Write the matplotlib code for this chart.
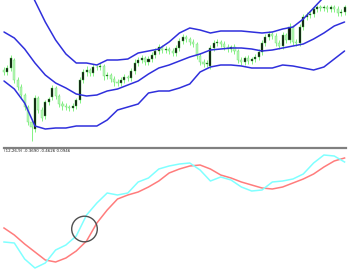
import matplotlib
matplotlib.use("Agg")
import matplotlib.pyplot as plt
from matplotlib.lines import Line2D
import numpy as np

# ---- candle data (price units) ----
opens = [80, 78, 82, 90, 70, 63, 55, 43, 28, 21, 52, 40, 34, 48, 53, 62, 54, 46, 44, 43,
         42, 44, 50, 70, 78, 80, 77, 83, 83, 84, 74, 75, 71, 68, 67, 70, 73, 72, 79, 87,
         90, 92, 88, 91, 95, 99, 103, 100, 101, 99, 97, 102, 109, 113, 111, 108, 106, 94, 88, 86,
         84, 102, 107, 108, 106, 103, 101, 103, 99, 90, 88, 92, 89, 91, 93, 98, 107, 113, 116, 114,
         107, 104, 115, 110, 123, 108, 107, 123, 133, 135, 136, 141, 143, 142, 143, 141, 143, 141, 137, 138]
closes = [78, 82, 92, 70, 63, 55, 43, 28, 23, 52, 40, 32, 48, 51, 62, 54, 46, 44, 43, 42,
          44, 50, 70, 78, 80, 77, 83, 83, 84, 74, 75, 71, 68, 67, 70, 73, 72, 79, 87, 90,
          92, 88, 91, 95, 99, 103, 100, 101, 99, 97, 102, 109, 113, 111, 108, 106, 94, 88, 86, 87,
          102, 107, 108, 106, 103, 101, 103, 99, 90, 88, 92, 89, 91, 93, 98, 107, 113, 116, 114, 107,
          104, 115, 110, 123, 108, 107, 123, 133, 135, 136, 141, 143, 142, 143, 141, 143, 141, 137, 138, 143]
highs = [83, 85, 95, 92, 73, 66, 57, 45, 31, 55, 54, 43, 50, 53, 65, 64, 56, 49, 47, 45,
         47, 52, 73, 81, 84, 82, 86, 85, 87, 86, 78, 77, 74, 71, 73, 76, 75, 82, 91, 93,
         95, 94, 94, 98, 102, 106, 105, 104, 103, 102, 105, 112, 116, 115, 113, 111, 108, 97, 91, 90,
         105, 110, 111, 110, 109, 106, 105, 106, 101, 93, 94, 95, 93, 96, 101, 110, 116, 119, 118, 117,
         110, 118, 117, 127, 125, 111, 126, 136, 138, 139, 144, 145, 145, 145, 145, 145, 145, 144, 141, 145]
lows = [75, 75, 79, 67, 60, 52, 40, 25, 9, 18, 37, 29, 31, 45, 50, 51, 43, 40, 40, 39,
        39, 41, 47, 67, 74, 74, 74, 80, 80, 70, 71, 68, 64, 64, 64, 67, 69, 69, 76, 84,
        87, 85, 85, 88, 92, 96, 97, 97, 96, 94, 94, 99, 106, 108, 105, 103, 91, 85, 83, 83,
        81, 99, 104, 103, 100, 98, 98, 96, 87, 85, 85, 86, 86, 88, 90, 95, 104, 110, 111, 104,
        101, 101, 107, 107, 105, 104, 104, 120, 130, 132, 133, 138, 139, 139, 138, 138, 138, 134, 134, 135]

# ---- Bollinger bands sampled every 3 bars ----
band_idx = [0, 3, 6, 9, 12, 15, 18, 21, 24, 27, 30, 33, 36, 39, 42, 45, 48, 51, 54, 57,
            60, 63, 66, 69, 72, 75, 78, 81, 84, 87, 90, 93, 96, 99]
upper = [210, 190, 170, 149, 128, 110, 96, 87, 87, 85, 90, 90, 91, 97, 99, 101, 108, 117, 122, 120,
         117, 119, 119, 119, 118, 117, 118, 121, 123, 131, 142, 153, 158, 162]
middle = [118, 112, 101, 87, 75, 67, 62, 56, 54, 55, 59, 61, 65, 69, 76, 82, 85, 89, 93, 96,
          100, 101, 102, 102, 101, 99, 100, 102, 104, 106, 111, 117, 124, 128]
lower = [69, 61, 47, 24, 21, 22, 22, 24, 24, 24, 30, 40, 43, 46, 57, 59, 59, 62, 66, 78,
         83, 85, 85, 84, 82, 82, 82, 85, 84, 82, 80, 83, 91, 99]

# ---- MACD lines ----
macd_main = [-0.42, -0.43, -0.59, -0.68, -0.63, -0.50, -0.45, -0.36, -0.15, -0.03, 0.07, 0.05,
             0.07, 0.18, 0.22, 0.31, 0.34, 0.36, 0.37, 0.30, 0.19, 0.23, 0.20, 0.13, 0.09, 0.10,
             0.18, 0.19, 0.21, 0.26, 0.37, 0.45, 0.44, 0.38]
macd_signal = [-0.28, -0.35, -0.44, -0.52, -0.60, -0.62, -0.58, -0.51, -0.41, -0.23, -0.10, 0.01,
               0.05, 0.08, 0.13, 0.19, 0.27, 0.31, 0.34, 0.35, 0.31, 0.25, 0.22, 0.18, 0.15, 0.12,
               0.11, 0.13, 0.17, 0.21, 0.26, 0.33, 0.39, 0.42]
circle_at = (23.4, -0.29)
label = "(12,26,9) -0.3690 -0.4626 0.0946"

W, H = 350, 275
fig = plt.figure(figsize=(W / 100, H / 100), dpi=100)
fig.patch.set_facecolor("white")

xlim = (-4 / 3.44, (W - 4) / 3.44)

ax1 = fig.add_axes([0, 1 - 146 / H, 1, 146 / H])
ax1.set_xlim(*xlim)
ax1.set_ylim(4, 150)
ax1.axis("off")

idx = np.arange(len(closes))
o = np.array(opens, float)
c = np.array(closes, float)
bull = c >= o
ax1.vlines(idx, lows, highs, color="#70f070", lw=0.6, zorder=2)
ax1.bar(idx[bull], (c - o)[bull], bottom=o[bull], width=0.6, color="#0a0a0a",
        edgecolor="#40c040", lw=0.3, zorder=3)
ax1.bar(idx[~bull], (c - o)[~bull], bottom=o[~bull], width=0.6, color="#b4f7b4",
        edgecolor="#78e078", lw=0.3, zorder=3)

for band in (upper, middle, lower):
    ax1.plot(band_idx, band, color="#2f2fdc", lw=1.1, zorder=4,
             solid_capstyle="round", solid_joinstyle="round")

ax2 = fig.add_axes([0, 0, 1, 125 / H])
ax2.set_xlim(*xlim)
ax2.set_ylim(-0.75, 0.50)
ax2.axis("off")
ax2.plot(band_idx, macd_signal, color="#ff7c7c", lw=1.1, solid_joinstyle="round")
ax2.plot(band_idx, macd_main, color="#80ffff", lw=1.1, solid_joinstyle="round")
ax2.scatter([circle_at[0]], [circle_at[1]], s=340, facecolors="none",
            edgecolors="#505050", linewidths=1.0, zorder=5)

fig.add_artist(Line2D([4 / W, 346 / W], [1 - 147.5 / H, 1 - 147.5 / H],
                      color="#808080", lw=1.6))
fig.text(4 / W, 1 - 149.5 / H, label, fontsize=2.9, color="#222222", va="top", ha="left")

fig.savefig("out.png", dpi=100, facecolor="white")
